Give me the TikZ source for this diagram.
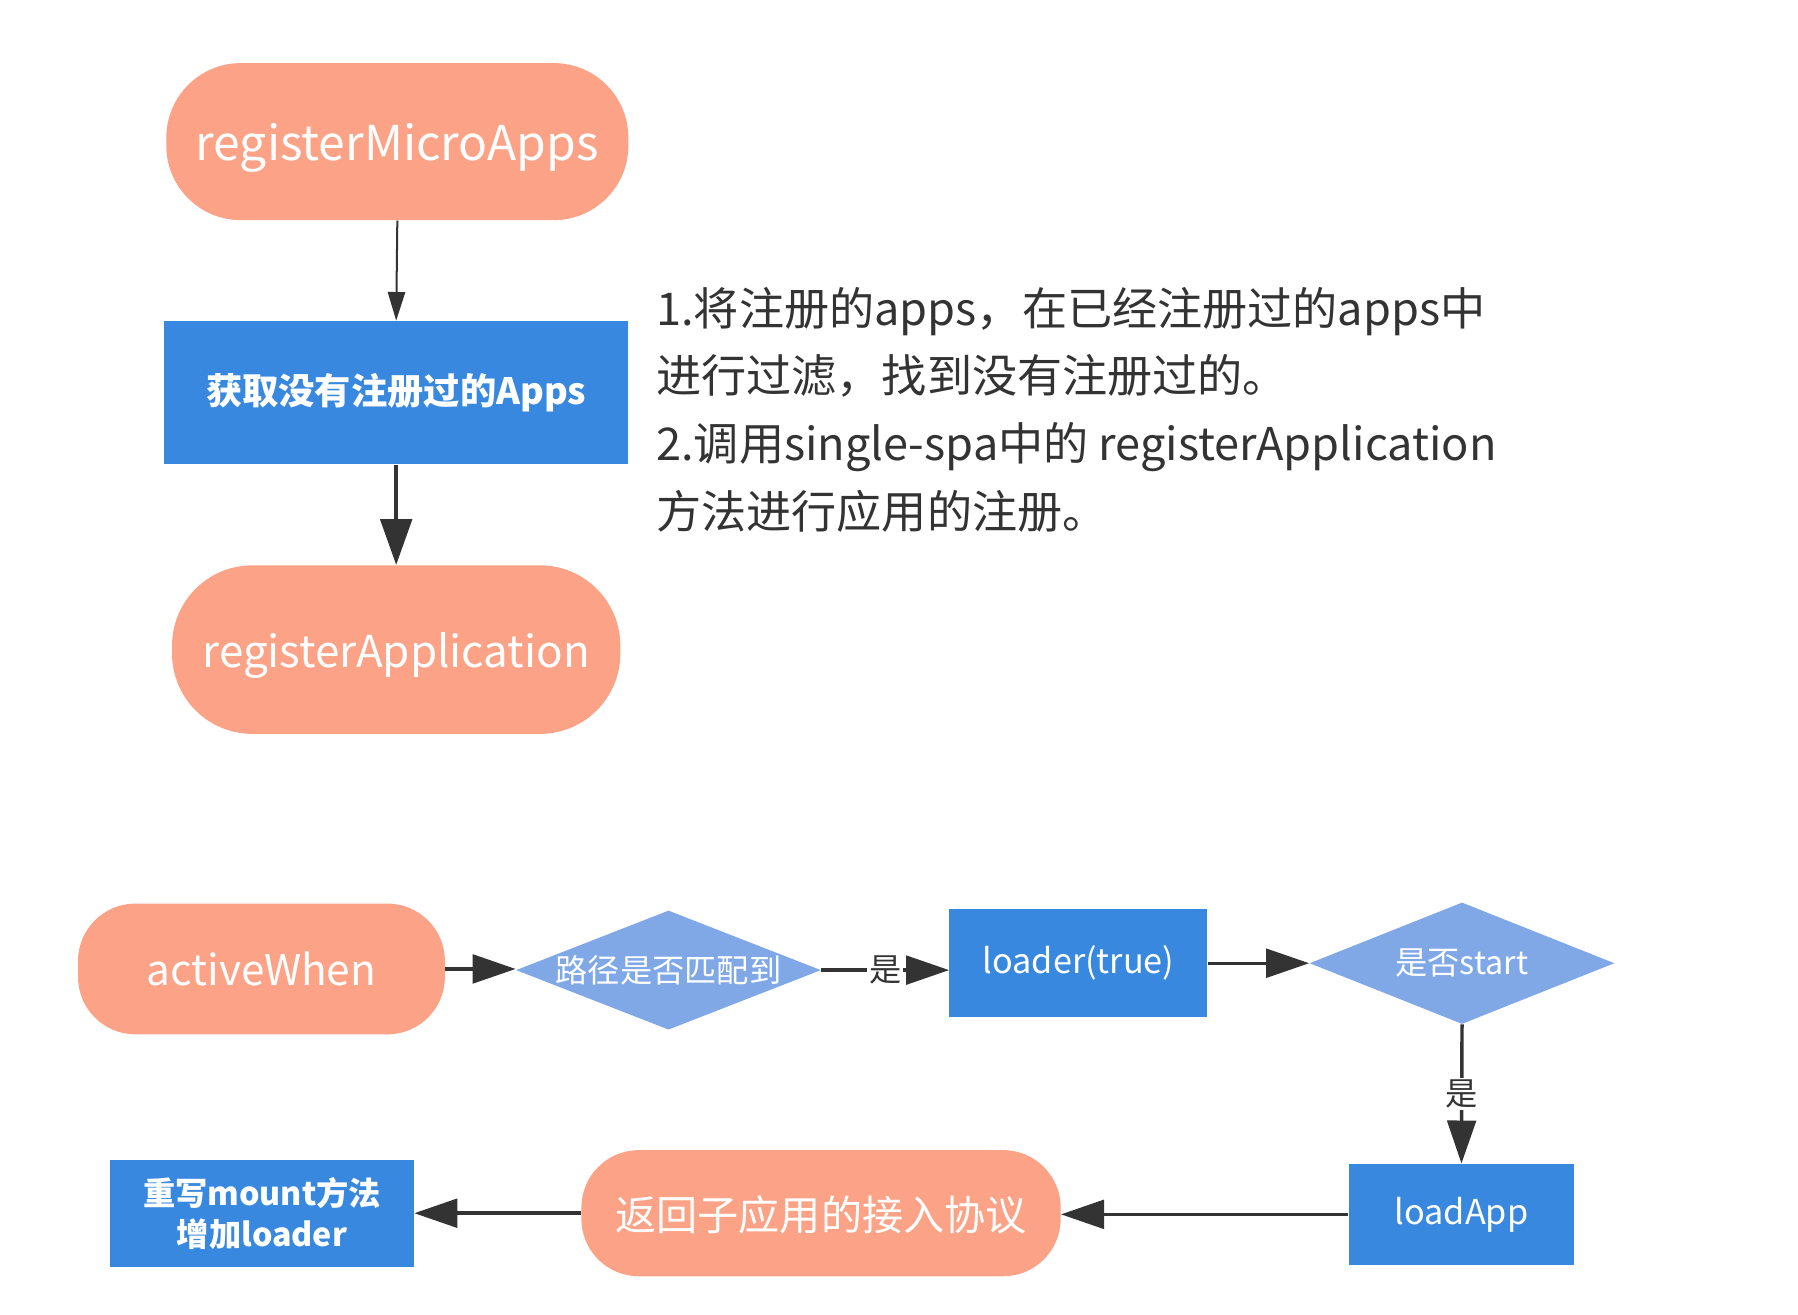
\documentclass[tikz,border=0pt]{standalone}
\usepackage{fontspec}
\setmainfont{Noto Sans CJK SC}
\usetikzlibrary{shapes.geometric,arrows.meta}
\definecolor{salmon}{RGB}{252,163,135}
\definecolor{boxblue}{RGB}{57,136,224}
\definecolor{diablue}{RGB}{128,168,230}
\definecolor{ink}{RGB}{51,51,51}
\tikzset{
  pill/.style={fill=salmon, draw=none, text=white, rounded corners=1.1cm, inner sep=0pt, text depth=0pt},
  bluebox/.style={fill=boxblue, draw=none, text=white, inner sep=0pt},
  decision/.style={shape=diamond, fill=diablue, draw=none, text=white, inner sep=0pt, aspect=2.5},
  thinarr/.style={draw=ink, line width=0.035cm, -{Triangle[length=0.5cm,width=0.3cm]}},
  thickarr/.style={draw=ink, line width=0.065cm, -{Triangle[length=0.8cm,width=0.55cm]}},
  flowarr/.style={draw=ink, line width=0.06cm, -{Triangle[length=0.75cm,width=0.5cm]}},
  yeslabel/.style={fill=white, text=ink, inner sep=1pt, font=\fontsize{16}{18}\selectfont},
}
\begin{document}
\begin{tikzpicture}[x=0.02cm, y=-0.02cm]
\useasboundingbox[fill=white] (0,0) rectangle (1568,1146);

% top flow
\node[pill, minimum width=8.06cm, minimum height=2.74cm, rounded corners=1.3cm,
      font=\fontsize{23.8}{28}\selectfont] (rma) at (346.5,123.5) {registerMicroApps};
\node[bluebox, minimum width=8.1cm, minimum height=2.5cm,
      font=\fontsize{18}{22}\selectfont\bfseries] (apps) at (345.5,342.5) {获取没有注册过的Apps};
\node[pill, minimum width=7.82cm, minimum height=2.94cm, rounded corners=1.4cm,
      font=\fontsize{21.8}{26}\selectfont] (rapp) at (345.5,566.5) {registerApplication};

\draw[thinarr] (rma.south) -- (apps.north);
\draw[thickarr] (apps.south) -- (rapp.north);

% explanation text
\node[anchor=north west, inner sep=0pt, align=left, text=ink,
      font=\fontsize{22.4}{33.6}\selectfont] (note) at (572,250)
  {1.将注册的apps，在已经注册过的apps中\\
   进行过滤，找到没有注册过的。\\
   2.调用single-spa中的 registerApplication\\
   方法进行应用的注册。};

% bottom flow
\node[pill, minimum width=6.4cm, minimum height=2.28cm, rounded corners=1.0cm,
      font=\fontsize{21}{24}\selectfont] (aw) at (228,845) {activeWhen};
\node[decision, minimum width=5.32cm, minimum height=2.08cm,
      font=\fontsize{16}{20}\selectfont] (d1) at (583,846) {\makebox[0pt]{路径是否匹配到}};
\node[bluebox, minimum width=4.5cm, minimum height=1.88cm,
      font=\fontsize{17}{20}\selectfont] (loader) at (940.5,840) {loader(true)};
\node[decision, minimum width=5.32cm, minimum height=2.12cm,
      font=\fontsize{16}{20}\selectfont] (d2) at (1275,840) {\makebox[0pt]{是否start}};
\node[bluebox, minimum width=3.94cm, minimum height=1.76cm,
      font=\fontsize{17}{20}\selectfont] (load) at (1274.5,1059) {loadApp};
\node[pill, minimum width=8.36cm, minimum height=2.2cm, rounded corners=1.0cm,
      font=\fontsize{20.4}{24}\selectfont] (ret) at (716,1058) {返回子应用的接入协议};
\node[bluebox, minimum width=5.3cm, minimum height=1.86cm, align=center,
      font=\fontsize{16}{20.5}\selectfont\bfseries] (rw) at (228.5,1058.5) {重写mount方法\\增加loader};

\draw[flowarr] (aw.east) -- (aw.east -| d1.west);
\draw[flowarr] (d1.east) -- node[yeslabel, pos=0.5] {是} (d1.east -| loader.west);
\draw[flowarr] (loader.east) -- (loader.east -| d2.west);
\draw[flowarr] (d2.south) -- node[yeslabel, pos=0.5] {是} (load.north);
\draw[flowarr] (load.west) -- (load.west -| ret.east);
\draw[flowarr] (ret.west) -- (ret.west -| rw.east);
\end{tikzpicture}
\end{document}
